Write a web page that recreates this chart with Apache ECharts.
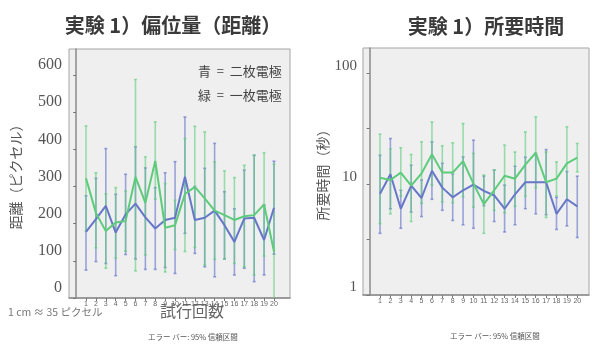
<!DOCTYPE html>
<html>
<head>
<meta charset="utf-8">
<script src="https://cdn.jsdelivr.net/npm/echarts@6/dist/echarts.min.js"></script>
<style>
html, body { margin: 0; padding: 0; background: #ffffff; }
#chart { width: 592px; height: 344px; }
</style>
</head>
<body>
<div id="chart"></div>
<script>
// Trial numbers (x axis)
const trials = [1, 2, 3, 4, 5, 6, 7, 8, 9, 10, 11, 12, 13, 14, 15, 16, 17, 18, 19, 20];

// Tick values
const distTicks = [0, 100, 200, 300, 400, 500, 600];
const timeLabelTicks = [1, 10, 100];
const timeTickMarks = [1, Math.sqrt(10), 10, Math.sqrt(1000), 100];

// Displacement (pixels): two electrodes (blue)
const distTwoMean = [178, 212, 248, 176, 225, 254, 217, 187, 210, 216, 326, 210, 216, 235, 196, 151, 214, 216, 156, 243];
const distTwoLow  = [75, 98, 93, 60, 117, 105, 77, 77, 82, 66, 174, 120, 84, 57, 105, 62, 80, 44, 62, 118];
const distTwoHigh = [275, 322, 402, 279, 333, 407, 350, 297, 337, 367, 487, 300, 349, 416, 286, 240, 344, 384, 250, 368];

// Displacement (pixels): one electrode (green)
const distOneMean = [322, 229, 180, 203, 207, 326, 256, 369, 189, 196, 280, 299, 268, 235, 223, 210, 220, 223, 252, 125];
const distOneLow  = [181, 135, 80, 107, 126, 73, 116, 266, 70, 130, 125, 136, 89, 104, 105, 93, 84, 62, 113, -110];
const distOneHigh = [463, 337, 280, 297, 288, 588, 380, 474, 308, 263, 429, 462, 447, 366, 342, 324, 357, 384, 391, 360];

// Time required (s): two electrodes (blue)
const timeTwoMean = [8.2, 12.3, 6.0, 9.7, 7.5, 13.2, 9.3, 7.6, 8.8, 9.9, 8.7, 7.9, 6.0, 8.1, 10.4, 10.4, 10.4, 5.4, 7.3, 6.3];
const timeTwoLow  = [3.6, 6.0, 4.0, 5.6, 5.1, 7.3, 5.8, 4.7, 4.3, 4.0, 6.4, 4.6, 3.7, 4.3, 6.0, 5.4, 5.3, 3.9, 4.2, 3.3];
const timeTwoHigh = [18.2, 25.8, 8.8, 14.8, 10.9, 24.1, 15.4, 12.3, 17.6, 24.9, 11.8, 13.4, 9.8, 14.5, 17.5, 18.9, 20.5, 7.6, 13.0, 11.8];

// Time required (s): one electrode (green)
const timeOneMean = [11.4, 10.9, 12.7, 9.7, 12.5, 18.6, 12.7, 12.7, 16.1, 10.1, 6.6, 8.8, 11.9, 11.2, 15.0, 19.2, 10.4, 11.2, 15.4, 17.3];
const timeOneLow  = [4.4, 5.4, 7.8, 4.6, 6.7, 9.8, 6.9, 6.8, 7.7, 6.2, 3.6, 5.8, 5.5, 6.3, 7.8, 9.3, 5.0, 7.8, 7.2, 12.9];
const timeOneHigh = [28.2, 20.7, 21.3, 18.5, 24.1, 36.4, 22.2, 23.6, 35.2, 18.9, 12.1, 13.4, 22.5, 19.5, 29.6, 40.4, 19.5, 15.9, 32.9, 23.3];

const BLUE_LINE = '#6777c8';
const GREEN_LINE = '#5ccb7a';
const BLUE_BAR = 'rgba(95,112,200,0.6)';
const GREEN_BAR = 'rgba(90,205,120,0.58)';
const SERIF = "'Liberation Serif', 'DejaVu Serif', 'Noto Sans CJK JP', serif";
const CJK = "'Noto Sans CJK JP', sans-serif";

function errorBars(low, high, color, axisIdx) {
  return {
    type: 'custom',
    xAxisIndex: axisIdx,
    yAxisIndex: axisIdx,
    clip: true,
    data: trials.map((t, i) => [t, low[i], high[i]]),
    encode: { x: 0, y: [1, 2] },
    renderItem(params, api) {
      const x = api.value(0);
      const lo = api.coord([x, api.value(1)]);
      const hi = api.coord([x, api.value(2)]);
      const cap = 1.5;
      const style = { stroke: color, lineWidth: 1.6, fill: null };
      return {
        type: 'group',
        children: [
          { type: 'line', shape: { x1: lo[0], y1: lo[1], x2: hi[0], y2: hi[1] }, style },
          { type: 'line', shape: { x1: lo[0] - cap, y1: lo[1], x2: lo[0] + cap, y2: lo[1] }, style },
          { type: 'line', shape: { x1: hi[0] - cap, y1: hi[1], x2: hi[0] + cap, y2: hi[1] }, style }
        ]
      };
    }
  };
}

function meanLine(mean, color, axisIdx) {
  return {
    type: 'line',
    xAxisIndex: axisIdx,
    yAxisIndex: axisIdx,
    data: trials.map((t, i) => [t, mean[i]]),
    showSymbol: false,
    symbol: 'none',
    lineStyle: { color: color, width: 2 },
    z: 5
  };
}

const xAxisCommon = {
  type: 'value',
  axisLine: { show: true, onZero: false, lineStyle: { color: '#8a8a8a', width: 1.5 } },
  axisTick: { show: true, customValues: trials, length: 3, lineStyle: { color: '#777' } },
  axisLabel: { customValues: trials, fontSize: 7, color: '#666', margin: 3, fontFamily: 'Liberation Sans, sans-serif' },
  splitLine: { show: false }
};

const chart = echarts.init(document.getElementById('chart'), null, { renderer: 'canvas' });
chart.setOption({
  animation: false,
  backgroundColor: '#ffffff',
  title: [
    { text: '実験 1）偏位量（距離）', left: 168, top: 10, textAlign: 'center',
      textStyle: { fontFamily: CJK, fontSize: 20, fontWeight: 'bold', color: '#3a3a3a' } },
    { text: '実験 1）所要時間', left: 481, top: 11, textAlign: 'center',
      textStyle: { fontFamily: CJK, fontSize: 20, fontWeight: 'bold', color: '#3a3a3a' } }
  ],
  grid: [
    { left: 69, top: 49, width: 221, height: 249, show: true, backgroundColor: '#efefef', borderColor: '#a5a5a5', borderWidth: 1 },
    { left: 363, top: 48, width: 226, height: 247, show: true, backgroundColor: '#efefef', borderColor: '#a5a5a5', borderWidth: 1 }
  ],
  xAxis: [
    Object.assign({}, xAxisCommon, { gridIndex: 0, min: -0.72, max: 21.62 }),
    Object.assign({}, xAxisCommon, { gridIndex: 1, min: -0.64, max: 21.13 })
  ],
  yAxis: [
    {
      gridIndex: 0, type: 'value', min: 0, max: 670,
      name: '距離（ピクセル）', nameLocation: 'middle', nameGap: 46, nameRotate: 90,
      nameTextStyle: { fontFamily: CJK, fontSize: 14, color: '#555' },
      axisLine: { show: true, lineStyle: { color: '#8a8a8a', width: 1.5 } },
      axisTick: { show: true, customValues: distTicks, length: 3, lineStyle: { color: '#777' } },
      axisLabel: { customValues: distTicks, fontFamily: SERIF, fontSize: 16, color: '#555', margin: 7,
                   verticalAlign: 'bottom', padding: [0, 0, 2, 0] },
      splitLine: { show: false }
    },
    {
      gridIndex: 1, type: 'log', logBase: 10, min: 1, max: 169,
      name: '所要時間（秒）', nameLocation: 'middle', nameGap: 33, nameRotate: 90,
      nameTextStyle: { fontFamily: CJK, fontSize: 14, color: '#555' },
      axisLine: { show: true, lineStyle: { color: '#8a8a8a', width: 1.5 } },
      axisTick: { show: true, customValues: timeTickMarks, length: 3, lineStyle: { color: '#777' } },
      axisLabel: { customValues: timeLabelTicks, fontFamily: SERIF, fontSize: 15, color: '#555', margin: 6,
                   verticalAlign: 'bottom', padding: [0, 0, 0, 0] },
      minorTick: { show: false },
      splitLine: { show: false }
    }
  ],
  series: [
    errorBars(distTwoLow, distTwoHigh, BLUE_BAR, 0),
    errorBars(distOneLow, distOneHigh, GREEN_BAR, 0),
    meanLine(distTwoMean, BLUE_LINE, 0),
    meanLine(distOneMean, GREEN_LINE, 0),
    errorBars(timeTwoLow, timeTwoHigh, BLUE_BAR, 1),
    errorBars(timeOneLow, timeOneHigh, GREEN_BAR, 1),
    meanLine(timeTwoMean, BLUE_LINE, 1),
    meanLine(timeOneMean, GREEN_LINE, 1)
  ],
  graphic: [
    { type: 'text', left: 198, top: 65, style: { text: '青  =  二枚電極', font: '13px ' + CJK, fill: '#444' } },
    { type: 'text', left: 198, top: 89, style: { text: '緑  =  一枚電極', font: '13px ' + CJK, fill: '#444' } },
    { type: 'text', left: 160, top: 303, style: { text: '試行回数', font: '16px ' + CJK, fill: '#666' } },
    { type: 'text', left: 8, top: 307, style: { text: '1 cm ≈ 35 ピクセル', font: '10.5px ' + CJK, fill: '#777' } },
    { type: 'text', left: 148, top: 333, style: { text: 'エラー バー: 95% 信頼区間', font: '7.5px ' + CJK, fill: '#555' } },
    { type: 'text', left: 450, top: 332, style: { text: 'エラー バー: 95% 信頼区間', font: '7.5px ' + CJK, fill: '#555' } }
  ]
});
</script>
</body>
</html>
